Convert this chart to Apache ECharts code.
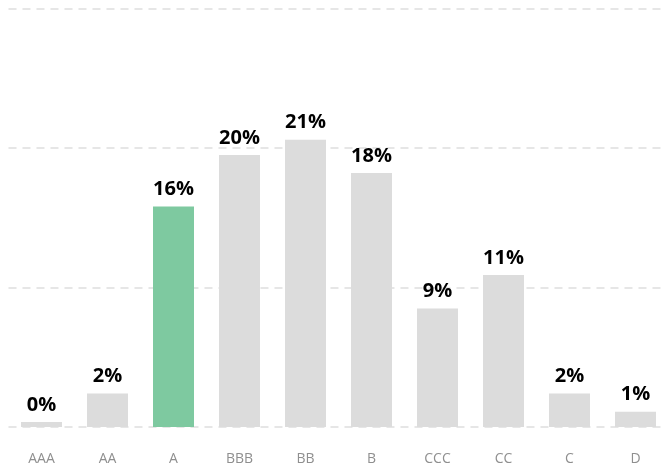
<!DOCTYPE html>
<html>
<head>
<meta charset="utf-8">
<script src="https://cdn.jsdelivr.net/npm/echarts@6/dist/echarts.min.js"></script>
<style>
  html, body { margin: 0; padding: 0; background: #fff; }
  #chart-panel { width: 661px; height: 468px; }
</style>
</head>
<body>
<div id="chart-panel"></div>
<script>
// rating buckets and share (%)
const categories = ["AAA", "AA", "A", "BBB", "BB", "B", "CCC", "CC", "C", "D"]
const shares = [0.35, 2.4, 15.8, 19.5, 20.6, 18.2, 8.5, 10.9, 2.4, 1.1]
const highlight = "A"

const chart = echarts.init(document.getElementById("chart-panel"))
const options = {
  animation: false,
  grid: {
    top: 8.5,
    bottom: 41,
    left: 8.5,
    width: 660,
    outerBoundsMode: "none"
  },
  xAxis: {
    type: "category",
    data: categories,
    axisLine: { show: false },
    axisTick: { show: false },
    axisLabel: {
      margin: 25,
      color: "#8f8f8f",
      fontSize: 14,
      fontFamily: "Open Sans"
    }
  },
  yAxis: {
    type: "value",
    min: 0,
    max: 30,
    interval: 10,
    axisLabel: { show: false },
    axisLine: { show: false },
    axisTick: { show: false },
    splitLine: {
      show: true,
      lineStyle: {
        color: "#e6e6e6",
        width: 2,
        type: [8, 6]
      }
    }
  },
  series: [
    {
      type: "bar",
      barWidth: 41,
      data: shares.map((v, i) => ({
        value: v,
        itemStyle: { color: categories[i] === highlight ? "#7ec9a0" : "#dcdcdc" }
      })),
      label: {
        show: true,
        position: "top",
        distance: 7,
        color: "#000",
        fontSize: 20,
        fontWeight: "bold",
        fontFamily: "Open Sans",
        formatter: (p) => Math.round(p.value) + "%"
      }
    }
  ]
}
chart.setOption(options)
</script>
</body>
</html>
